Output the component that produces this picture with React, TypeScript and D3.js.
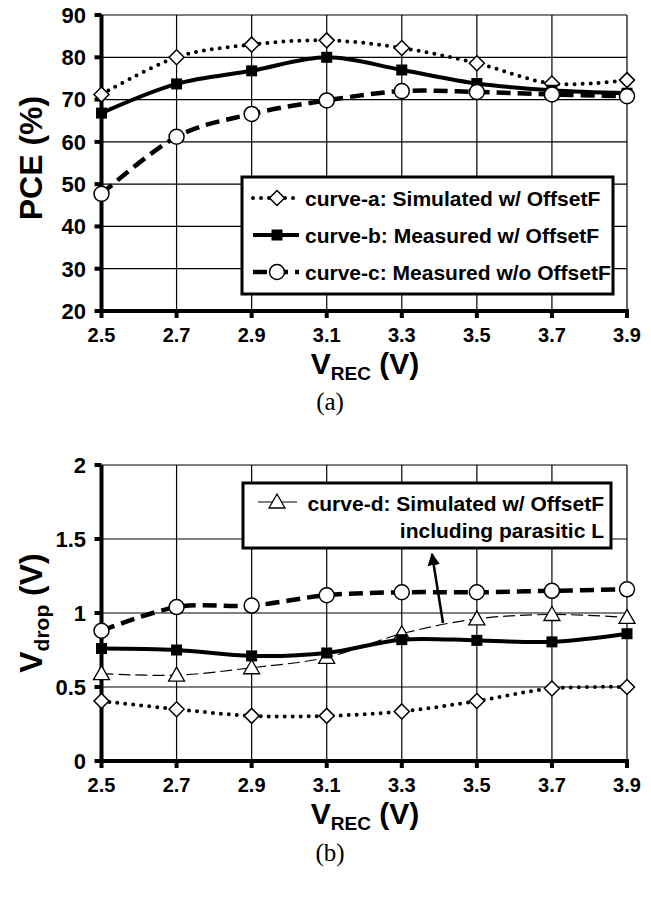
import React from "react";
import * as d3 from "d3";

const xValues = [2.5, 2.7, 2.9, 3.1, 3.3, 3.5, 3.7, 3.9];
const xTickLabels = ["2.5", "2.7", "2.9", "3.1", "3.3", "3.5", "3.7", "3.9"];

// Panel (a): PCE (%)
const pceA = [71.2, 80, 83, 84, 82.2, 78.6, 73.8, 74.6];
const pceB = [66.8, 73.7, 76.8, 80, 77, 73.8, 72.2, 71.5];
const pceC = [47.7, 61.2, 66.6, 69.8, 72, 71.8, 71.2, 70.8];
const pceTicks = [20, 30, 40, 50, 60, 70, 80, 90];

// Panel (b): Vdrop (V)
const vdA = [0.405, 0.35, 0.305, 0.305, 0.335, 0.405, 0.49, 0.5];
const vdB = [0.76, 0.75, 0.71, 0.73, 0.82, 0.815, 0.805, 0.86];
const vdC = [0.88, 1.04, 1.05, 1.12, 1.14, 1.14, 1.15, 1.16];
const vdD = [0.59, 0.58, 0.63, 0.7, 0.86, 0.96, 0.99, 0.97];
const vdTicks = [0, 0.5, 1, 1.5, 2];
const vdTickLabels = ["0", "0.5", "1", "1.5", "2"];

const legendA = [
  "curve-a: Simulated w/ OffsetF",
  "curve-b: Measured w/ OffsetF",
  "curve-c: Measured w/o OffsetF",
];
const legendB = ["curve-d: Simulated w/ OffsetF", "including parasitic L"];

const FONT = "'Liberation Sans', Arial, sans-serif";
const SERIF = "'Liberation Serif', 'Times New Roman', serif";

const x = d3.scaleLinear().domain([2.5, 3.9]).range([101.5, 627]);
const yA = d3.scaleLinear().domain([20, 90]).range([311, 15]);
const yB = d3.scaleLinear().domain([0, 2]).range([761, 465]);

type Style = "a" | "b" | "c" | "d";

const lineStyle: Record<Style, any> = {
  a: { strokeWidth: 4, strokeDasharray: "0 8", strokeLinecap: "round" },
  b: { strokeWidth: 4 },
  c: { strokeWidth: 4.5, strokeDasharray: "14 7" },
  d: { strokeWidth: 1.2, strokeDasharray: "12 5" },
};

function Marker({ t, cx, cy }: { t: Style; cx: number; cy: number }) {
  if (t === "a") {
    const r = 7.5;
    return (
      <path
        d={`M${cx},${cy - r}L${cx + r},${cy}L${cx},${cy + r}L${cx - r},${cy}Z`}
        fill="#fff"
        stroke="#000"
        strokeWidth={1.5}
      />
    );
  }
  if (t === "b") {
    return <rect x={cx - 5.5} y={cy - 5.5} width={11} height={11} fill="#000" />;
  }
  if (t === "c") {
    return <circle cx={cx} cy={cy} r={7.5} fill="#fff" stroke="#000" strokeWidth={1.5} />;
  }
  return (
    <path
      d={`M${cx},${cy - 8}L${cx + 8},${cy + 6}L${cx - 8},${cy + 6}Z`}
      fill="#fff"
      stroke="#000"
      strokeWidth={1.3}
    />
  );
}

function Series({ vals, y, t }: { vals: number[]; y: any; t: Style }) {
  const line = d3
    .line<number>()
    .x((_, i) => x(xValues[i]))
    .y((v) => y(v))
    .curve(d3.curveCatmullRom.alpha(0));
  return (
    <g>
      <path d={line(vals) || ""} fill="none" stroke="#000" {...lineStyle[t]} />
      {vals.map((v, i) => (
        <Marker key={i} t={t} cx={x(xValues[i])} cy={y(v)} />
      ))}
    </g>
  );
}

function Frame({
  y,
  ticks,
  labels,
}: {
  y: any;
  ticks: number[];
  labels: string[];
}) {
  const [y0, y1] = y.range();
  const x0 = x.range()[0];
  const x1 = x.range()[1];
  return (
    <g>
      {ticks.map((t, i) => (
        <line key={"h" + i} x1={x0} x2={x1} y1={y(t)} y2={y(t)} stroke="#000" strokeWidth={1.2} />
      ))}
      {xValues.map((v, i) => (
        <line key={"v" + i} x1={x(v)} x2={x(v)} y1={y0} y2={y1} stroke="#000" strokeWidth={1.2} />
      ))}
      <line x1={x0} x2={x0} y1={y0 + 2} y2={y1} stroke="#000" strokeWidth={4} />
      <line x1={x0 - 2} x2={x1 + 2} y1={y0} y2={y0} stroke="#000" strokeWidth={4} />
      {ticks.map((t, i) => (
        <line key={"yt" + i} x1={x0 - 7} x2={x0} y1={y(t)} y2={y(t)} stroke="#000" strokeWidth={4} />
      ))}
      {xValues.map((v, i) => (
        <line key={"xt" + i} x1={x(v)} x2={x(v)} y1={y0} y2={y0 + 7} stroke="#000" strokeWidth={4} />
      ))}
      {ticks.map((t, i) => (
        <text
          key={"yl" + i}
          x={86}
          y={y(t)}
          dy="0.36em"
          textAnchor="end"
          fontFamily={FONT}
          fontWeight="bold"
          fontSize={22}
        >
          {labels[i]}
        </text>
      ))}
      {xValues.map((v, i) => (
        <text
          key={"xl" + i}
          x={x(v)}
          y={y0 + 31}
          textAnchor="middle"
          fontFamily={FONT}
          fontWeight="bold"
          fontSize={20}
        >
          {xTickLabels[i]}
        </text>
      ))}
      <text x={365} y={y0 + 63} textAnchor="middle" fontFamily={FONT} fontWeight="bold" fontSize={30}>
        V
        <tspan fontSize={19} dy={6}>REC</tspan>
        <tspan dy={-6}> (V)</tspan>
      </text>
    </g>
  );
}

export default function App() {
  return (
    <svg width={651} height={902} style={{ position: "absolute", left: 0, top: 0, background: "#fff" }}>
      <rect width={651} height={902} fill="#fff" />
      {/* Panel (a) */}
      <Frame y={yA} ticks={pceTicks} labels={pceTicks.map(String)} />
      <Series vals={pceA} y={yA} t="a" />
      <Series vals={pceB} y={yA} t="b" />
      <Series vals={pceC} y={yA} t="c" />
      <text
        transform="translate(42,158) rotate(-90)"
        textAnchor="middle"
        fontFamily={FONT}
        fontWeight="bold"
        fontSize={32}
      >
        PCE (%)
      </text>
      <rect x={242} y={177} width={371} height={117} fill="#fff" stroke="#000" strokeWidth={3} />
      {legendA.map((s, i) => {
        const t = (["a", "b", "c"] as Style[])[i];
        const cy = 198 + i * 37;
        return (
          <g key={i}>
            <line x1={253} x2={299} y1={cy} y2={cy} stroke="#000" {...lineStyle[t]} />
            <Marker t={t} cx={277} cy={cy} />
            <text x={305} y={cy} dy="0.36em" fontFamily={FONT} fontWeight="bold" fontSize={21}>
              {s}
            </text>
          </g>
        );
      })}
      <text x={330} y={410} textAnchor="middle" fontFamily={SERIF} fontSize={25}>
        (a)
      </text>

      {/* Panel (b) */}
      <Frame y={yB} ticks={vdTicks} labels={vdTickLabels} />
      <Series vals={vdD} y={yB} t="d" />
      <Series vals={vdA} y={yB} t="a" />
      <Series vals={vdB} y={yB} t="b" />
      <Series vals={vdC} y={yB} t="c" />
      <text
        transform="translate(42,613) rotate(-90)"
        textAnchor="middle"
        fontFamily={FONT}
        fontWeight="bold"
        fontSize={32}
      >
        V
        <tspan fontSize={21} dy={7}>drop</tspan>
        <tspan dy={-7}> (V)</tspan>
      </text>
      <rect x={243} y={483} width={368} height={65} fill="#fff" stroke="#000" strokeWidth={3} />
      <line x1={258} x2={297} y1={502} y2={502} stroke="#000" strokeWidth={1.2} />
      <Marker t="d" cx={277} cy={502} />
      <text x={604} y={503} dy="0.36em" textAnchor="end" fontFamily={FONT} fontWeight="bold" fontSize={21}>
        {legendB[0]}
      </text>
      <text x={604} y={530} dy="0.36em" textAnchor="end" fontFamily={FONT} fontWeight="bold" fontSize={21}>
        {legendB[1]}
      </text>
      <defs>
        <marker id="arr" viewBox="0 0 10 10" refX={9} refY={5} markerWidth={5} markerHeight={5} orient="auto">
          <path d="M0,0L10,5L0,10Z" fill="#000" />
        </marker>
      </defs>
      <line x1={443} y1={623} x2={432} y2={554} stroke="#000" strokeWidth={2.5} markerEnd="url(#arr)" />
      <text x={330} y={861} textAnchor="middle" fontFamily={SERIF} fontSize={25}>
        (b)
      </text>
    </svg>
  );
}
